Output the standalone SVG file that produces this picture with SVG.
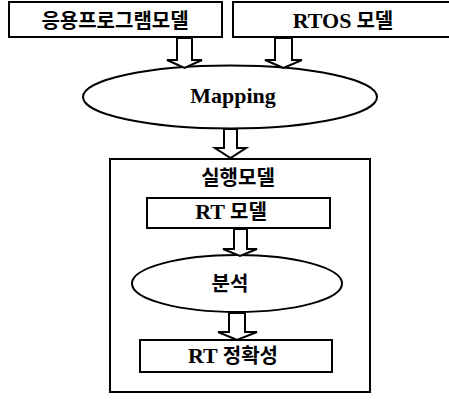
<svg xmlns="http://www.w3.org/2000/svg" width="449" height="403" viewBox="0 0 449 403">
<style>
.box{fill:#fff;stroke:#000;stroke-width:2}
.ell{fill:#fff;stroke:#000;stroke-width:2}
.arr{fill:#fff;stroke:#000;stroke-width:2;stroke-linejoin:miter}
.t{font-family:"Liberation Serif","Noto Sans CJK KR",serif;font-weight:bold;font-size:20px;text-anchor:middle;fill:#000}
.l{font-size:22px}
</style>
<rect width="449" height="403" fill="#fff"/>
<g id="exec-model">
<rect class="box" x="110" y="159" width="260" height="233"/>
<text class="t" x="238" y="185">실행모델</text>
</g>
<g id="app-model">
<rect class="box" x="9" y="2" width="213" height="35"/>
<text class="t" x="115" y="28">응용프로그램모델</text>
</g>
<g id="rtos-model">
<rect class="box" x="233" y="2" width="220" height="35"/>
<text class="t" x="343" y="28"><tspan class="l">RTOS</tspan> 모델</text>
</g>
<g id="mapping">
<ellipse class="ell" cx="230" cy="97" rx="147" ry="31.5"/>
<text class="t l" x="233" y="103">Mapping</text>
</g>
<g id="rt-model">
<rect class="box" x="147" y="198" width="183" height="30"/>
<text class="t" x="231" y="219"><tspan class="l">RT</tspan> 모델</text>
</g>
<g id="analysis">
<ellipse class="ell" cx="237" cy="283.5" rx="105" ry="28.5"/>
<text class="t" x="230" y="291">분석</text>
</g>
<g id="rt-correctness">
<rect class="box" x="140" y="340" width="192" height="32"/>
<text class="t" x="233" y="363"><tspan class="l">RT</tspan> 정확성</text>
</g>
<g id="connectors">
<polygon class="arr" points="177,38 192,38 192,60 202,60 184.5,68 167,60 177,60"/>
<polygon class="arr" points="275,38 292,38 292,60 302,60 283.5,68 265,60 275,60"/>
<polygon class="arr" points="224,129 237,129 237,148 246,148 230.5,158 215,148 224,148"/>
<polygon class="arr" points="234,229 247,229 247,249 257,249 240,256 223,249 234,249"/>
<polygon class="arr" points="229,313 245,313 245,332 257,332 237,340 218,332 229,332"/>
</g>
</svg>
